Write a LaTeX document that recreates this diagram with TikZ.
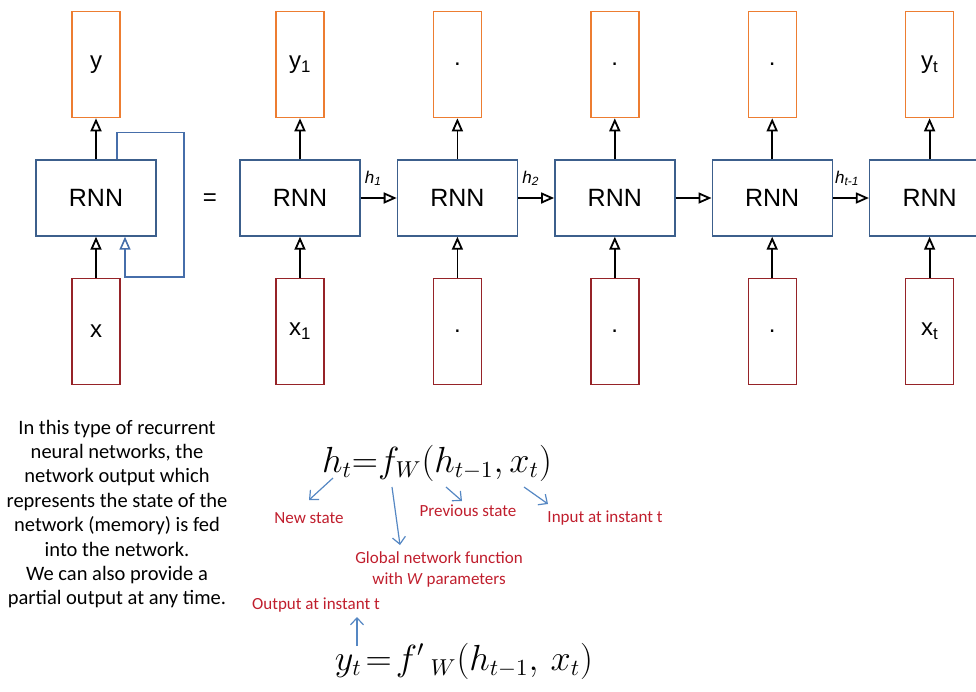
\documentclass[tikz,border=0pt]{standalone}
\usepackage{fontspec}
\setmainfont{Liberation Sans}
\newfontfamily\calib{Carlito}
\usepackage{amsmath}
\usepackage{tikz}
\usetikzlibrary{arrows.meta}
\usetikzlibrary{positioning}
\definecolor{outorange}{RGB}{237,125,49}
\definecolor{inred}{RGB}{150,35,40}
\definecolor{rnnblue}{RGB}{60,95,140}
\definecolor{loopblue}{RGB}{70,110,170}
\definecolor{notered}{RGB}{192,30,45}
\definecolor{noteblue}{RGB}{85,135,195}
\tikzstyle{rnn} = [rectangle, minimum width=120pt, minimum height=76pt, draw=rnnblue, line width=1.4pt, font=\fontsize{25}{28}\selectfont]
\tikzstyle{outbox} = [rectangle, minimum width=48pt, minimum height=106pt, draw=outorange, line width=1.4pt, font=\fontsize{24}{26}\selectfont]
\tikzstyle{inbox} = [rectangle, minimum width=48pt, minimum height=106pt, draw=inred, line width=1.4pt, font=\fontsize{24}{26}\selectfont]
\tikzstyle{arrow} = [line width=1.8pt, -{Triangle[open, length=13pt, width=11pt]}]
\tikzstyle{feedback} = [line width=1.6pt, draw=loopblue, -{Triangle[open, length=13pt, width=11pt]}]
\tikzstyle{hlabel} = [anchor=south west, inner sep=0pt, font=\fontsize{17}{18}\selectfont\itshape]
\tikzstyle{note} = [text=notered, align=center, font=\calib\fontsize{17}{21}\selectfont]
\tikzstyle{formula} = [scale=2.1, font=\fontsize{16}{18}\selectfont]
\tikzstyle{pointer} = [line width=1.2pt, draw=noteblue, -{Straight Barb[length=7pt, width=13pt]}]

\begin{document}
\begin{tikzpicture}[x=1pt, y=-1pt, node distance = 36pt]
\useasboundingbox (0,0) rectangle (976,691);

% folded network
\node (rnn0) [rnn] at (96,198) {RNN};
\node (y0) [outbox, above=41pt of rnn0] {y};
\node (x0) [inbox, below=41pt of rnn0] {x};
\draw [arrow] (x0) -- (rnn0);
\draw [arrow] (rnn0) -- (y0);
\draw [feedback] ([xshift=21pt]rnn0.north) -- ++(0,27pt) -| ([xshift=27pt, yshift=-40pt]rnn0.south east) -| ([xshift=29pt]rnn0.south);

\node (eq) at (210,200) {\fontsize{24}{26}\selectfont =};

% unfolded network
\node (rnn1) [rnn] at (300,198) {RNN};
\node (rnn2) [rnn, right=of rnn1] {RNN};
\node (rnn3) [rnn, right=of rnn2] {RNN};
\node (rnn4) [rnn, right=of rnn3] {RNN};
\node (rnn5) [rnn, right=of rnn4] {RNN};

\node (y1) [outbox, above=41pt of rnn1] {y\textsubscript{1}};
\node (y2) [outbox, above=41pt of rnn2] {.};
\node (y3) [outbox, above=41pt of rnn3] {.};
\node (y4) [outbox, above=41pt of rnn4] {.};
\node (y5) [outbox, above=41pt of rnn5] {y\textsubscript{t}};

\node (x1) [inbox, below=41pt of rnn1] {x\textsubscript{1}};
\node (x2) [inbox, below=41pt of rnn2] {.};
\node (x3) [inbox, below=41pt of rnn3] {.};
\node (x4) [inbox, below=41pt of rnn4] {.};
\node (x5) [inbox, below=41pt of rnn5] {x\textsubscript{t}};

\foreach \i in {1,...,5} {
  \draw [arrow] (x\i) -- (rnn\i);
  \draw [arrow] (rnn\i) -- (y\i);
}
\draw [arrow] (rnn1) -- (rnn2);
\draw [arrow] (rnn2) -- (rnn3);
\draw [arrow] (rnn3) -- (rnn4);
\draw [arrow] (rnn4) -- (rnn5);
\node (h1) [hlabel] at ([xshift=4pt, yshift=12pt]rnn1.east) {h\textsubscript{1}};
\node (h2) [hlabel] at ([xshift=4pt, yshift=12pt]rnn2.east) {h\textsubscript{2}};
\node (ht) [hlabel] at ([xshift=2pt, yshift=12pt]rnn4.east) {h\textsubscript{t-1}};

% explanation
\node (expl) [align=center, font=\calib\fontsize{20.5}{24.4}\selectfont] at (117,514) {In this type of recurrent\\neural networks, the\\network output which\\represents the state of the\\network (memory) is fed\\into the network.\\We can also provide a\\partial output at any time.};

\node (eqh) [formula] at (437,463) {$h_t{=}f_W(h_{t-1},x_t)$};
\node (eqy) [formula] at (464,661) {$y_t\!=\!f'\,{}_W(h_{t-1},\,x_t)$};

\node (lnew) [note] at (309,518) {New state};
\node (lprev) [note] at (468,511) {Previous state};
\node (linput) [note] at (605,518) {Input at instant t};
\node (lglob) [note] at (439,569) {Global network function\\with \textit{W} parameters};
\node (lout) [note] at (316,605) {Output at instant t};

\coordinate (pnew) at (333,478);
\coordinate (pnewend) at (309,500);
\coordinate (pglob) at (392,487);
\coordinate (pglobend) at (400,545);
\coordinate (pprev) at (446,487);
\coordinate (pprevend) at (462,501);
\coordinate (pin) at (524,487);
\coordinate (pinend) at (548,504);
\coordinate (pout) at (357,646);
\coordinate (poutend) at (357,617);
\draw [pointer] (pnew) -- (pnewend);
\draw [pointer] (pglob) -- (pglobend);
\draw [pointer] (pprev) -- (pprevend);
\draw [pointer] (pin) -- (pinend);
\draw [pointer] (pout) -- (poutend);
\end{tikzpicture}
\end{document}
